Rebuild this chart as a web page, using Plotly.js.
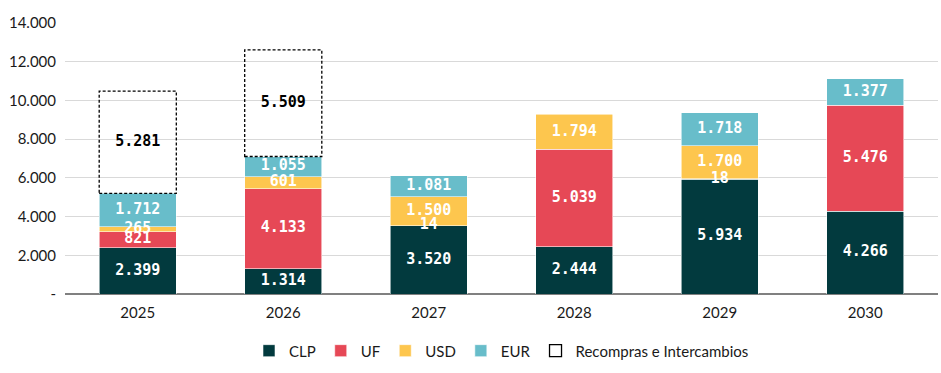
<!DOCTYPE html>
<html>
<head>
<meta charset="utf-8">
<script src="https://cdn.plot.ly/plotly-3.0.1.min.js"></script>
<style>html,body{margin:0;padding:0;background:#fff;}#chart{width:941px;height:373px;}</style>
</head>
<body>
<div id="chart"></div>
<script>
const years = ['2025', '2026', '2027', '2028', '2029', '2030'];
const clp = [2399, 1314, 3520, 2444, 5934, 4266];
const uf = [821, 4133, 14, 5039, 18, 5476];
const usd = [265, 601, 1500, 1794, 1700, null];
const eur = [1712, 1055, 1081, null, 1718, 1377];
const recompras = [5281, 5509, null, null, null, null];
const yTickVals = [0, 2000, 4000, 6000, 8000, 10000, 12000, 14000];
const yTickText = ['-', '2.000', '4.000', '6.000', '8.000', '10.000', '12.000', '14.000'];

const colors = {CLP: '#023a3e', UF: '#e64856', USD: '#fdc64e', EUR: '#68bdca'};
const BARGAP = 0.47;

function fmt(v) { return String(v).replace(/\B(?=(\d{3})+(?!\d))/g, '.'); }

const series = [['CLP', clp], ['UF', uf], ['USD', usd], ['EUR', eur]];

const traces = [];
series.forEach(([name, vals], k) => {
  traces.push({
    type: 'bar', name: name, x: years, y: vals,
    marker: {color: colors[name], line: {color: 'rgba(255,255,255,0.7)', width: 0.8}},
    hoverinfo: 'skip', legendrank: k + 1
  });
});

// running bases for stacked segments
const base = years.map(() => 0);
const labelTraces = [];
series.forEach(([name, vals]) => {
  const xs = [], ys = [], ts = [];
  vals.forEach((v, i) => {
    if (v == null) return;
    xs.push(years[i]); ys.push(base[i] + v / 2); ts.push(fmt(v));
    base[i] += v;
  });
  labelTraces.push({
    type: 'scatter', mode: 'text', x: xs, y: ys, text: ts,
    textposition: 'middle center', cliponaxis: false,
    textfont: {family: 'DejaVu Sans Mono', size: 15, color: '#ffffff', weight: 'bold'},
    showlegend: false, hoverinfo: 'skip'
  });
});

// Recompras: invisible stacked bar + dashed rectangle shapes + black label
traces.push({
  type: 'bar', name: 'Recompras e Intercambios', x: years, y: recompras,
  marker: {color: 'rgba(0,0,0,0)', line: {width: 0}},
  showlegend: false, hoverinfo: 'skip'
});
const rx = [], ry = [], rt = [];
const shapes = [];
let first = true;
recompras.forEach((v, i) => {
  if (v == null) return;
  const half = (1 - BARGAP) / 2;
  shapes.push({
    type: 'rect', xref: 'x', yref: 'y',
    x0: i - half, x1: i + half, y0: base[i], y1: base[i] + v,
    line: {color: '#000000', width: 1.3, dash: '3px,2px'},
    fillcolor: 'rgba(0,0,0,0)',
    name: 'Recompras e Intercambios', showlegend: first, legendrank: 5
  });
  first = false;
  rx.push(years[i]); ry.push(base[i] + v / 2); rt.push(fmt(v));
});
labelTraces.push({
  type: 'scatter', mode: 'text', x: rx, y: ry, text: rt,
  textposition: 'middle center', cliponaxis: false,
  textfont: {family: 'DejaVu Sans Mono', size: 15, color: '#000000', weight: 'bold'},
  showlegend: false, hoverinfo: 'skip'
});

const layout = {
  width: 941, height: 373,
  margin: {l: 65, r: 3, t: 23, b: 79},
  paper_bgcolor: '#ffffff', plot_bgcolor: '#ffffff',
  barmode: 'stack', bargap: BARGAP,
  separators: ',.',
  font: {family: 'Lato', size: 15, color: '#1a1a1a'},
  xaxis: {
    type: 'category', showgrid: false, ticks: '', ticklabelstandoff: 8,
    tickfont: {family: 'Lato', size: 15, color: '#1a1a1a'}
  },
  yaxis: {
    range: [0, 14000], tickvals: yTickVals, ticktext: yTickText,
    showgrid: true, gridcolor: '#d9d9d9', gridwidth: 1,
    zeroline: true, zerolinecolor: '#808080', zerolinewidth: 2,
    ticks: '', ticklabelstandoff: 8,
    tickfont: {family: 'Lato', size: 15, color: '#1a1a1a'}
  },
  showlegend: true,
  legend: {
    orientation: 'h', x: 0.5, xanchor: 'center', y: -0.21, yanchor: 'middle',
    font: {family: 'Lato', size: 15, color: '#1a1a1a'},
    itemwidth: 30, traceorder: 'normal'
  },
  shapes: shapes
};

Plotly.newPlot('chart', traces.concat(labelTraces), layout, {displayModeBar: false, staticPlot: true});
</script>
</body>
</html>
